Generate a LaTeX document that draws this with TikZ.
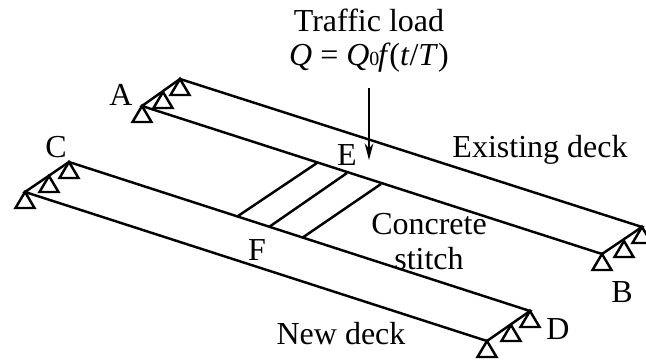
\documentclass[tikz,border=0pt]{standalone}
\usepackage{fontspec}
\setmainfont{Liberation Serif}
\usetikzlibrary{arrows.meta}
\tikzset{
  deck/.style={line width=1.85pt,black},
  support/.style={line width=1.85pt,black,line join=miter},
  loadarrow/.style={line width=1pt,black,-{Stealth[length=12.5pt,width=6.5pt,inset=4pt]}},
  lbl/.style={font=\fontsize{24pt}{28pt}\selectfont,inner sep=0pt,text=black,align=center},
  pics/tri/.style={code={\draw[support] (0,0) -- (-9.5,16) -- (9.5,16) -- cycle;}}
}
\begin{document}
\begin{tikzpicture}[x=0.75pt,y=-0.75pt]
\useasboundingbox (0,0) rectangle (646,363);
% corner coordinates
\coordinate (Aback) at (180,79);
\coordinate (Amid) at (163,92);
\coordinate (A) at (142,106);
\coordinate (Bback) at (642,227);
\coordinate (Bmid) at (624,241);
\coordinate (B) at (602,254);
\coordinate (Cback) at (69,162);
\coordinate (Cmid) at (49,176);
\coordinate (C) at (25,192);
\coordinate (Dback) at (530,311);
\coordinate (Dmid) at (511,325);
\coordinate (D) at (487,341);
\coordinate (s1a) at (317,163);
\coordinate (s1b) at (238,216);
\coordinate (s2a) at (347,173);
\coordinate (s2b) at (269,227);
\coordinate (s3a) at (381,184);
\coordinate (s3b) at (302,238);
\coordinate (loadtop) at (369,88);
\coordinate (loadend) at (369,160);
% decks
\draw[deck] (A) -- (Aback) -- (Bback) -- (B) -- cycle;
\draw[deck] (C) -- (Cback) -- (Dback) -- (D) -- cycle;
\draw[deck] (s1a) -- (s1b);
\draw[deck] (s2a) -- (s2b);
\draw[deck] (s3a) -- (s3b);
% supports
\foreach \p in {Aback,Amid,A,Bback,Bmid,B,Cback,Cmid,C,Dback,Dmid,D}{
  \pic at (\p) {tri};
}
% load
\draw[loadarrow] (loadtop) -- (loadend);
% labels
\node[lbl] (title) at (369,20) {Traffic load};
\node[lbl] (formula) at (369,58) {\textit{Q} = \textit{Q}{\fontsize{15pt}{18pt}\selectfont 0}\kern-1pt\textit{f}\kern-1pt(\textit{t}/\textit{T})};
\node[lbl] (la) at (121,95) {A};
\node[lbl] (lc) at (56,147) {C};
\node[lbl] (le) at (347,155) {E};
\node[lbl] (lf) at (257,250) {F};
\node[lbl] (lb) at (622,292) {B};
\node[lbl] (ld) at (558,329) {D};
\node[lbl] (ed) at (540,150) {Existing deck};
\node[lbl] (cs1) at (429,224) {Concrete};
\node[lbl] (cs2) at (429,259) {stitch};
\node[lbl] (nd) at (341,334) {New deck};
\end{tikzpicture}
\end{document}
